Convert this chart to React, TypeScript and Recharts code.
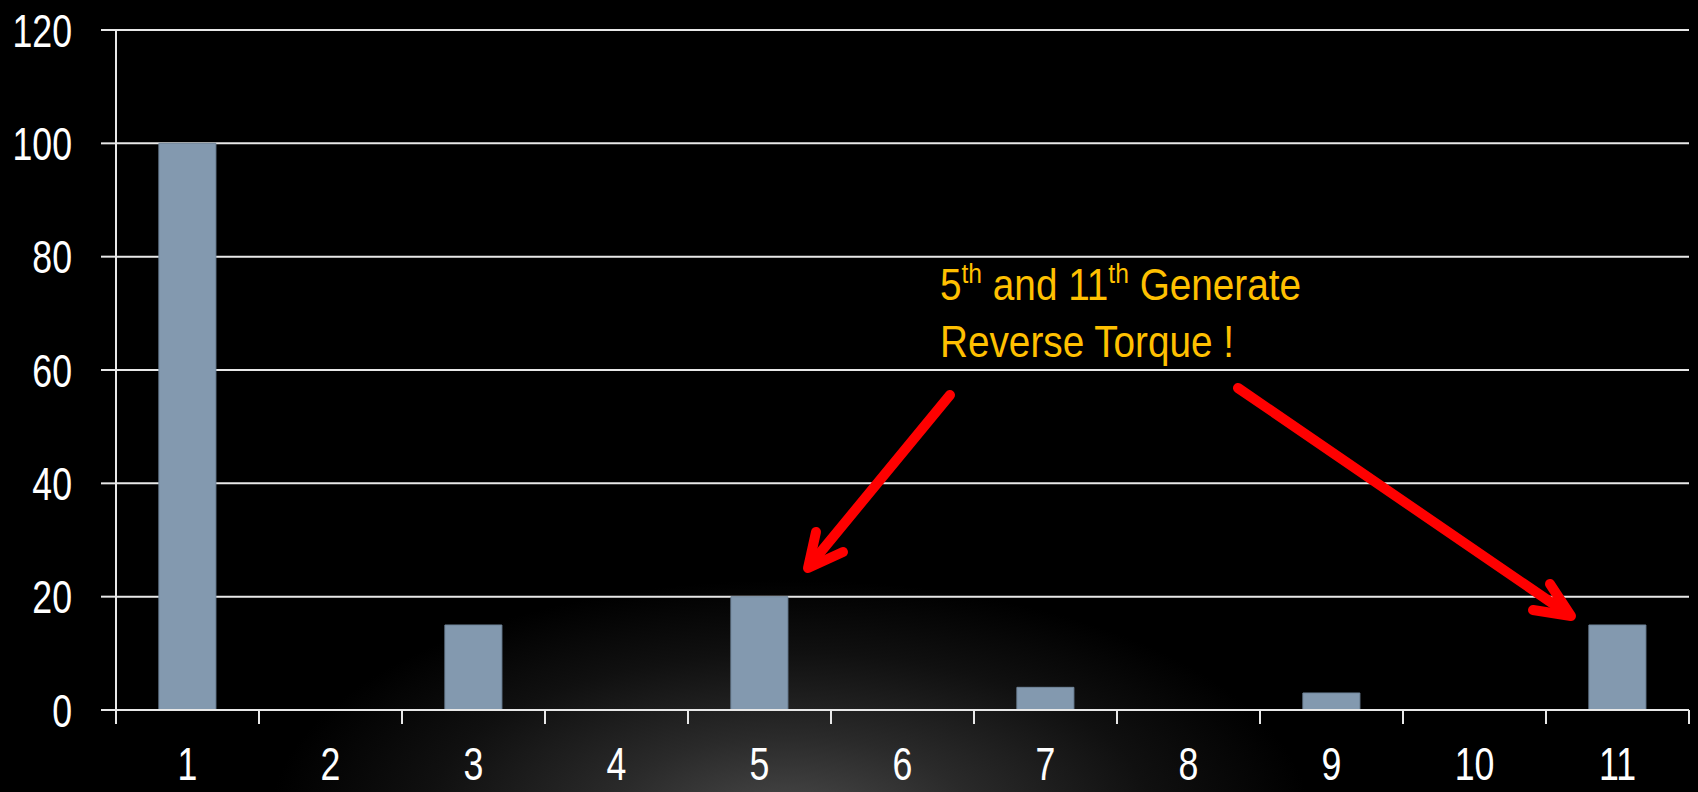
import React from "react";
import { BarChart, Bar, XAxis, YAxis, CartesianGrid } from "recharts";

const categories = ["1", "2", "3", "4", "5", "6", "7", "8", "9", "10", "11"];
const values = [100, 0, 15, 0, 20, 0, 4, 0, 3, 0, 15];
const yTicks = [0, 20, 40, 60, 80, 100, 120];

const data = categories.map((c, i) => ({ name: c, value: values[i] }));

const FONT = "'Liberation Sans', Arial, sans-serif";
const W = 1698;
const H = 792;
const NARROW = 0.76;
const X_TICK_SIZE = 14;
const X_TICK_MARGIN = 23;
const AXIS_COLOR = "#e8e8e8";

const YTick = (props: any) => {
  const { x, y, payload } = props;
  return (
    <g transform={`translate(${x},${y})`}>
      <text transform={`scale(${NARROW},1)`} textAnchor="end" dy="0.355em" fill="#ffffff" fontSize={47} fontFamily={FONT}>
        {payload.value}
      </text>
    </g>
  );
};

const XTick = (props: any) => {
  const { x, y, payload, width, visibleTicksCount, index } = props;
  const half =
    payload && typeof payload.offset === "number" && payload.offset > 0
      ? payload.offset
      : width / visibleTicksCount / 2;
  const y1 = y - X_TICK_SIZE - X_TICK_MARGIN;
  const y2 = y - X_TICK_MARGIN;
  return (
    <g>
      <line x1={x - half} x2={x - half} y1={y1} y2={y2} stroke={AXIS_COLOR} strokeWidth={2} />
      {index === visibleTicksCount - 1 && (
        <line x1={x + half} x2={x + half} y1={y1} y2={y2} stroke={AXIS_COLOR} strokeWidth={2} />
      )}
      <g transform={`translate(${x},${y})`}>
        <text transform={`scale(${NARROW},1)`} textAnchor="middle" dy="0.71em" fill="#ffffff" fontSize={47} fontFamily={FONT}>
          {payload.value}
        </text>
      </g>
    </g>
  );
};

export default function App() {
  return (
    <div
      style={{
        position: "absolute",
        left: 0,
        top: 0,
        width: W,
        height: H,
        overflow: "hidden",
        background:
          "radial-gradient(ellipse 520px 240px at 790px 820px, #4a4a4a 0%, #2a2a2a 35%, #101010 70%, #000 100%)",
        fontFamily: FONT,
      }}
    >
      <BarChart
        width={W}
        height={H}
        data={data}
        margin={{ top: 30, right: 9, bottom: 0, left: 0 }}
        barCategoryGap="30%"
      >
        <CartesianGrid horizontal vertical={false} stroke={AXIS_COLOR} strokeWidth={2} />
        <XAxis
          dataKey="name"
          height={82}
          axisLine={{ stroke: AXIS_COLOR, strokeWidth: 2 }}
          tickLine={false}
          tickSize={X_TICK_SIZE}
          tickMargin={X_TICK_MARGIN}
          tick={<XTick />}
          interval={0}
        />
        <YAxis
          width={116}
          domain={[0, 120]}
          ticks={yTicks}
          interval={0}
          axisLine={{ stroke: AXIS_COLOR, strokeWidth: 2 }}
          tickLine={{ stroke: AXIS_COLOR, strokeWidth: 2 }}
          tickSize={15}
          tickMargin={29}
          tick={<YTick />}
        />
        <Bar dataKey="value" fill="#8399AF" stroke="#71869b" strokeWidth={1} isAnimationActive={false} />
      </BarChart>
      <svg
        width={W}
        height={H}
        style={{ position: "absolute", left: 0, top: 0, pointerEvents: "none" }}
      >
        <g transform="translate(940,0) scale(0.88,1)">
          <text x={0} y={300} fill="#FFC000" fontSize={44} fontFamily={FONT}>
            5<tspan fontSize={28} dy={-17}>th</tspan>
            <tspan dy={17}> and 11</tspan>
            <tspan fontSize={28} dy={-17}>th</tspan>
            <tspan dy={17}> Generate</tspan>
          </text>
          <text x={0} y={357} fill="#FFC000" fontSize={44} fontFamily={FONT}>
            Reverse Torque !
          </text>
        </g>
        <g stroke="#FF0000" strokeWidth={10} strokeLinecap="round" strokeLinejoin="round" fill="none">
          <line x1={950} y1={395} x2={810} y2={565} />
          <polyline points="816,532 808,568 843,552" />
          <line x1={1238} y1={388} x2={1568} y2={614} />
          <polyline points="1550,584 1571,616 1533,610" />
        </g>
      </svg>
    </div>
  );
}
